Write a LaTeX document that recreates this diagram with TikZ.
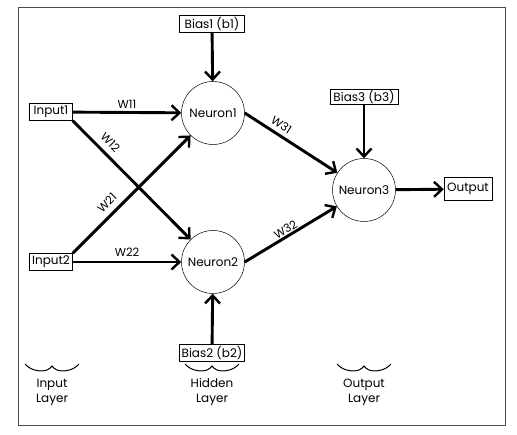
\documentclass[tikz,border=0pt]{standalone}
\usepackage{fontspec}
\setmainfont{Poppins}
\usepackage{tikz}
\usetikzlibrary{arrows.meta, positioning, calc}

\begin{document}
\begin{tikzpicture}[
    x=1pt, y=-1pt,
    font=\fontsize{12}{13}\selectfont,
    unit/.style={draw, line width=0.5pt, inner sep=0pt, minimum width=43pt,
                 minimum height=17pt},
    neuron/.style={draw, circle, line width=0.5pt, inner sep=0pt,
                   minimum size=63pt},
    link/.style={-{Straight Barb[length=8pt, width=15pt, line width=2.4pt]},
                 line width=2.9pt},
    wlabel/.style={font=\fontsize{11.5}{12}\selectfont, inner sep=1pt}
  ]
    \useasboundingbox (0,0) rectangle (517,435);
    \draw[line width=0.6pt, black!70] (18,7) rectangle (505,425);

    % inputs and biases
    \node[unit] (in1) at (51,112) {Input1};
    \node[unit] (in2) at (51,262) {Input2};
    \node[unit, minimum width=65pt] (b1) at (212,24) {Bias1 (b1)};
    \node[unit, minimum width=65pt] (b2) at (212,353) {Bias2 (b2)};
    \node[unit, minimum width=68pt, minimum height=15pt] (b3) at (364,97) {Bias3 (b3)};

    % neurons
    \node[neuron] (n1) at (213,113) {Neuron1};
    \node[neuron] (n2) at (213,262) {Neuron2};
    \node[neuron] (n3) at (364,190) {Neuron3};
    \node[unit, minimum width=48pt, minimum height=23pt] (out) at (468,189) {Output};

    % weighted connections
    \draw[link] (in1) -- node[wlabel, above=1.5pt] {W11} (n1);
    \draw[link] (in1.south east) -- node[wlabel, pos=0.25, sloped, above=5pt] {W12} (n2);
    \draw[link] (in2.north east) -- node[wlabel, pos=0.36, sloped, above=5pt] {W21} (n1);
    \draw[link] (in2) -- node[wlabel, above=3pt] {W22} (n2);
    \draw[link] (n1.east) -- node[wlabel, pos=0.34, sloped, above=3pt] {W31} (n3);
    \draw[link] (n2.east) -- node[wlabel, pos=0.48, sloped, above=0pt] {W32} (n3);
    \draw[link] (b1) -- (n1);
    \draw[link] (b2) -- (n2);
    \draw[link] (b3) -- (n3);
    \draw[link] (n3) -- (out);

    % layer captions
    \foreach \x/\name/\txt in {52/lin/Input, 212/lhid/Hidden, 364/lout/Output} {
      \draw[line width=1pt] ({\x-27},364) .. controls ({\x-21},371) and ({\x-11},372) .. ({\x-5},370)
        .. controls ({\x-2},369) and ({\x-1},367) .. (\x,366) .. controls ({\x+1},367) and ({\x+2},369) .. ({\x+5},370)
        .. controls ({\x+11},372) and ({\x+21},371) .. ({\x+27},364);
      \node[align=center, font=\fontsize{12}{15}\selectfont] (\name) at (\x,392) {\txt\\Layer};
    }
  \end{tikzpicture}
\end{document}
